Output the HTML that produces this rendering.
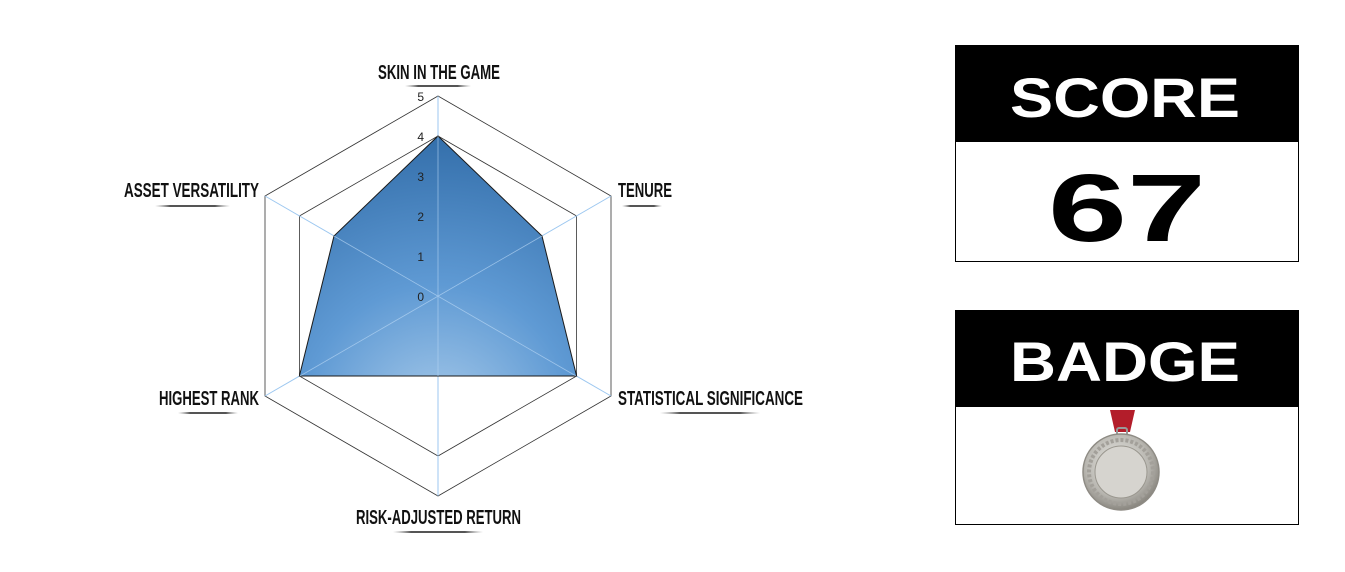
<!DOCTYPE html>
<html><head><meta charset="utf-8"><style>
html,body{margin:0;padding:0;background:#fff;width:1345px;height:572px;overflow:hidden}
.lbl{font-family:"Liberation Sans",sans-serif;font-weight:bold;font-size:20px;fill:#111}
.tk{font-family:"Liberation Sans",sans-serif;font-size:12px;fill:#222}
.big{font-family:"Liberation Sans",sans-serif;font-weight:bold}
</style></head><body>
<svg width="1345" height="572" viewBox="0 0 1345 572" xmlns="http://www.w3.org/2000/svg">
<defs>
<radialGradient id="g" cx="438" cy="420" r="300" gradientUnits="userSpaceOnUse">
<stop offset="0" stop-color="#a9cbea"/><stop offset="0.45" stop-color="#5f9ad4"/><stop offset="1" stop-color="#2f6aa6"/>
</radialGradient>
<linearGradient id="ul" x1="0" x2="1"><stop offset="0" stop-color="#999" stop-opacity="0"/><stop offset="0.2" stop-color="#555"/><stop offset="0.8" stop-color="#555"/><stop offset="1" stop-color="#999" stop-opacity="0"/></linearGradient>
<radialGradient id="med" cx="0.45" cy="0.4" r="0.6"><stop offset="0" stop-color="#eeeeea"/><stop offset="0.7" stop-color="#b8b6b0"/><stop offset="1" stop-color="#8a8780"/></radialGradient>
</defs>
<polygon points="438,96 611,196 611,396 438,496 265,396 265,196" fill="none" stroke="#333" stroke-width="0.8"/>
<polygon points="438,136 576.6,216 576.6,376 438,456 299.4,376 299.4,216" fill="none" stroke="#333" stroke-width="0.8"/>
<g stroke="#9cc7f0" stroke-width="1">
<line x1="438" y1="96" x2="438" y2="496"/>
<line x1="265" y1="196" x2="611" y2="396"/>
<line x1="611" y1="196" x2="265" y2="396"/>
</g>
<polygon points="438,136 542,236 576.6,376 438,376 299.4,376 334,236" fill="url(#g)" stroke="#1a1a1a" stroke-width="1"/>
<g stroke="#b7d6f4" stroke-width="0.8" opacity="0.7">
<line x1="438" y1="136" x2="438" y2="376"/>
<line x1="334" y1="236" x2="576" y2="376"/>
<line x1="542" y1="236" x2="300" y2="376"/>
</g>
<g class="tk" text-anchor="end">
<text x="424" y="101">5</text><text x="424" y="141">4</text><text x="424" y="181">3</text>
<text x="424" y="221">2</text><text x="424" y="261">1</text><text x="424" y="301">0</text>
</g>
<g class="lbl">
<text x="378" y="79" textLength="122" lengthAdjust="spacingAndGlyphs">SKIN IN THE GAME</text>
<text x="618" y="197" textLength="54" lengthAdjust="spacingAndGlyphs">TENURE</text>
<text x="124" y="197" textLength="135" lengthAdjust="spacingAndGlyphs">ASSET VERSATILITY</text>
<text x="159" y="405" textLength="100" lengthAdjust="spacingAndGlyphs">HIGHEST RANK</text>
<text x="618" y="405" textLength="185" lengthAdjust="spacingAndGlyphs">STATISTICAL SIGNIFICANCE</text>
<text x="356" y="524" textLength="165" lengthAdjust="spacingAndGlyphs">RISK-ADJUSTED RETURN</text>
</g>
<g fill="url(#ul)">
<rect x="405" y="85" width="66" height="2"/>
<rect x="622" y="205" width="40" height="2"/>
<rect x="155" y="205" width="75" height="2"/>
<rect x="178" y="412" width="60" height="2"/>
<rect x="660" y="412" width="100" height="2"/>
<rect x="393" y="531" width="90" height="2"/>
</g>
<rect x="955.5" y="45.5" width="343" height="216" fill="#fff" stroke="#000"/>
<rect x="955" y="45" width="344" height="97" fill="#000"/>
<text class="big" x="1010" y="117" font-size="56" fill="#fff" textLength="230" lengthAdjust="spacingAndGlyphs">SCORE</text>
<text class="big" x="1048" y="241" font-size="96" fill="#000" textLength="158" lengthAdjust="spacingAndGlyphs">67</text>
<rect x="955.5" y="310.5" width="343" height="214" fill="#fff" stroke="#000"/>
<rect x="955" y="310" width="344" height="97" fill="#000"/>
<text class="big" x="1010" y="381" font-size="56" fill="#fff" textLength="230" lengthAdjust="spacingAndGlyphs">BADGE</text>
<polygon points="1110,410 1135,410 1130,432 1115,432" fill="#b31d2a"/>
<rect x="1117" y="428" width="10" height="8" rx="2" fill="none" stroke="#999" stroke-width="2"/>
<circle cx="1121" cy="472" r="38" fill="url(#med)" stroke="#8e8b84" stroke-width="1.5"/>
<circle cx="1121" cy="472" r="32" fill="none" stroke="#a3a09a" stroke-width="4" stroke-dasharray="3 2"/>
<circle cx="1121" cy="472" r="26" fill="#d6d4cf" stroke="#9a978f"/>
</svg>
</body></html>
